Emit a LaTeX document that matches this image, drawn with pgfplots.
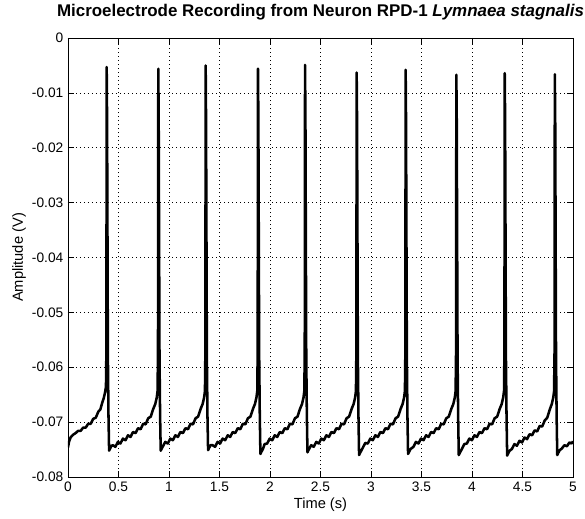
\documentclass[border=0pt]{standalone}
\usepackage{fontspec}
\setmainfont{Liberation Sans}
\usepackage{pgfplots}
\pgfplotsset{compat=1.18}
\begin{document}
\begin{tikzpicture}
\begin{axis}[
    scale only axis,
    width=378.75pt, height=329.25pt,
    xmin=0, xmax=5, ymin=-0.08, ymax=0,
    scaled x ticks=false, scaled y ticks=false,
    xtick={0,0.5,1,1.5,2,2.5,3,3.5,4,4.5,5},
    xticklabels={0,0.5,1,1.5,2,2.5,3,3.5,4,4.5,5},
    ytick={-0.08,-0.07,-0.06,-0.05,-0.04,-0.03,-0.02,-0.01,0},
    yticklabels={-0.08,-0.07,-0.06,-0.05,-0.04,-0.03,-0.02,-0.01,0},
    tick align=inside,
    major tick length=4.2pt,
    tick style={black, line width=0.5pt},
    axis line style={black, line width=0.6pt},
    grid=major,
    grid style={black, line width=0.5pt, dash pattern=on 0.6pt off 2.4pt},
    ticklabel style={font=\fontsize{10.3}{12}\selectfont},
    title={Microelectrode Recording from Neuron RPD-1 \textit{Lymnaea stagnalis}},
    title style={font=\fontsize{12.7}{14}\selectfont\bfseries, at={(axis description cs:0.5,1)}, anchor=base, yshift=9.75pt},
    xlabel={Time (s)},
    xlabel style={font=\fontsize{11}{13}\selectfont, at={(axis description cs:0.5,-0.0625)}, anchor=center},
    ylabel={Amplitude (V)},
    ylabel style={font=\fontsize{11}{13}\selectfont, at={(axis description cs:-0.097,0.5)}, anchor=center},
]
\addplot[black, line width=1.9pt, line join=round] table {
0.000 -0.0746
0.010 -0.0736
0.025 -0.0728
0.050 -0.0723
0.075 -0.0720
0.100 -0.0716
0.125 -0.0716
0.150 -0.0710
0.175 -0.0710
0.200 -0.0703
0.225 -0.0703
0.250 -0.0694
0.275 -0.0692
0.300 -0.0681
0.320 -0.0677
0.340 -0.0664
0.353 -0.0657
0.368 -0.0645
0.376 -0.0635
0.378 -0.0600
0.380 -0.0575
0.383 -0.0053
0.387 -0.0150
0.395 -0.0580
0.401 -0.0690
0.407 -0.0752
0.417 -0.0748
0.432 -0.0743
0.444 -0.0742
0.469 -0.0745
0.494 -0.0736
0.519 -0.0739
0.544 -0.0730
0.569 -0.0733
0.594 -0.0724
0.619 -0.0727
0.644 -0.0718
0.669 -0.0720
0.694 -0.0711
0.719 -0.0713
0.744 -0.0703
0.769 -0.0704
0.794 -0.0693
0.819 -0.0690
0.844 -0.0676
0.864 -0.0667
0.879 -0.0655
0.887 -0.0643
0.889 -0.0605
0.891 -0.0575
0.894 -0.0056
0.898 -0.0150
0.906 -0.0580
0.912 -0.0690
0.918 -0.0752
0.928 -0.0748
0.943 -0.0743
0.963 -0.0736
0.988 -0.0739
1.013 -0.0730
1.038 -0.0733
1.063 -0.0724
1.088 -0.0727
1.113 -0.0718
1.138 -0.0720
1.163 -0.0711
1.188 -0.0713
1.213 -0.0703
1.238 -0.0704
1.263 -0.0693
1.288 -0.0690
1.313 -0.0676
1.333 -0.0667
1.348 -0.0655
1.356 -0.0643
1.358 -0.0605
1.360 -0.0575
1.363 -0.0050
1.367 -0.0150
1.375 -0.0580
1.381 -0.0690
1.387 -0.0751
1.397 -0.0747
1.412 -0.0742
1.431 -0.0742
1.456 -0.0745
1.481 -0.0736
1.506 -0.0739
1.531 -0.0730
1.556 -0.0733
1.581 -0.0724
1.606 -0.0727
1.631 -0.0718
1.656 -0.0720
1.681 -0.0711
1.706 -0.0713
1.731 -0.0703
1.756 -0.0704
1.781 -0.0693
1.806 -0.0690
1.831 -0.0676
1.851 -0.0667
1.866 -0.0655
1.874 -0.0643
1.876 -0.0605
1.878 -0.0575
1.881 -0.0056
1.885 -0.0150
1.893 -0.0580
1.899 -0.0690
1.905 -0.0758
1.915 -0.0754
1.930 -0.0749
1.947 -0.0740
1.972 -0.0739
1.997 -0.0730
2.022 -0.0733
2.047 -0.0724
2.072 -0.0727
2.097 -0.0718
2.122 -0.0720
2.147 -0.0711
2.172 -0.0713
2.197 -0.0703
2.222 -0.0704
2.247 -0.0693
2.272 -0.0690
2.297 -0.0676
2.317 -0.0667
2.332 -0.0655
2.340 -0.0643
2.342 -0.0605
2.344 -0.0575
2.347 -0.0049
2.351 -0.0150
2.359 -0.0580
2.365 -0.0690
2.371 -0.0755
2.381 -0.0751
2.396 -0.0746
2.408 -0.0742
2.433 -0.0745
2.458 -0.0736
2.483 -0.0739
2.508 -0.0730
2.533 -0.0733
2.558 -0.0724
2.583 -0.0727
2.608 -0.0718
2.633 -0.0720
2.658 -0.0711
2.683 -0.0713
2.708 -0.0703
2.733 -0.0704
2.758 -0.0693
2.783 -0.0690
2.808 -0.0676
2.828 -0.0667
2.843 -0.0655
2.851 -0.0643
2.853 -0.0605
2.855 -0.0575
2.858 -0.0063
2.862 -0.0150
2.870 -0.0580
2.876 -0.0690
2.882 -0.0760
2.892 -0.0756
2.907 -0.0751
2.918 -0.0747
2.943 -0.0738
2.968 -0.0739
2.993 -0.0730
3.018 -0.0733
3.043 -0.0724
3.068 -0.0727
3.093 -0.0718
3.118 -0.0720
3.143 -0.0711
3.168 -0.0713
3.193 -0.0703
3.218 -0.0704
3.243 -0.0693
3.268 -0.0690
3.293 -0.0676
3.313 -0.0667
3.328 -0.0655
3.336 -0.0643
3.338 -0.0605
3.340 -0.0575
3.343 -0.0058
3.347 -0.0150
3.355 -0.0580
3.361 -0.0690
3.367 -0.0758
3.377 -0.0754
3.392 -0.0749
3.420 -0.0745
3.445 -0.0736
3.470 -0.0739
3.495 -0.0730
3.520 -0.0733
3.545 -0.0724
3.570 -0.0727
3.595 -0.0718
3.620 -0.0720
3.645 -0.0711
3.670 -0.0713
3.695 -0.0703
3.720 -0.0704
3.745 -0.0693
3.770 -0.0690
3.795 -0.0676
3.815 -0.0667
3.830 -0.0655
3.838 -0.0643
3.840 -0.0605
3.842 -0.0575
3.845 -0.0067
3.849 -0.0150
3.857 -0.0580
3.863 -0.0690
3.869 -0.0760
3.879 -0.0756
3.894 -0.0751
3.924 -0.0740
3.949 -0.0739
3.974 -0.0730
3.999 -0.0733
4.024 -0.0724
4.049 -0.0727
4.074 -0.0718
4.099 -0.0720
4.124 -0.0711
4.149 -0.0713
4.174 -0.0703
4.199 -0.0704
4.224 -0.0693
4.249 -0.0690
4.274 -0.0676
4.294 -0.0667
4.309 -0.0655
4.317 -0.0643
4.319 -0.0605
4.321 -0.0575
4.324 -0.0064
4.328 -0.0150
4.336 -0.0580
4.342 -0.0690
4.348 -0.0761
4.358 -0.0757
4.373 -0.0752
4.395 -0.0749
4.420 -0.0740
4.445 -0.0743
4.470 -0.0734
4.495 -0.0737
4.520 -0.0728
4.545 -0.0731
4.570 -0.0722
4.595 -0.0724
4.620 -0.0715
4.645 -0.0717
4.670 -0.0707
4.695 -0.0708
4.720 -0.0697
4.745 -0.0692
4.770 -0.0677
4.790 -0.0667
4.805 -0.0655
4.813 -0.0643
4.815 -0.0605
4.817 -0.0575
4.820 -0.0066
4.824 -0.0150
4.832 -0.0580
4.838 -0.0690
4.844 -0.0760
4.854 -0.0756
4.869 -0.0751
4.890 -0.0748
4.915 -0.0742
4.940 -0.0744
4.965 -0.0737
4.985 -0.0739
5.000 -0.0735
};
\end{axis}
\pgfresetboundingbox
\path ([shift={(-51pt,-30.75pt)}]current axis.south west) rectangle ([shift={(9pt,28.5pt)}]current axis.north east);
\end{tikzpicture}
\end{document}
